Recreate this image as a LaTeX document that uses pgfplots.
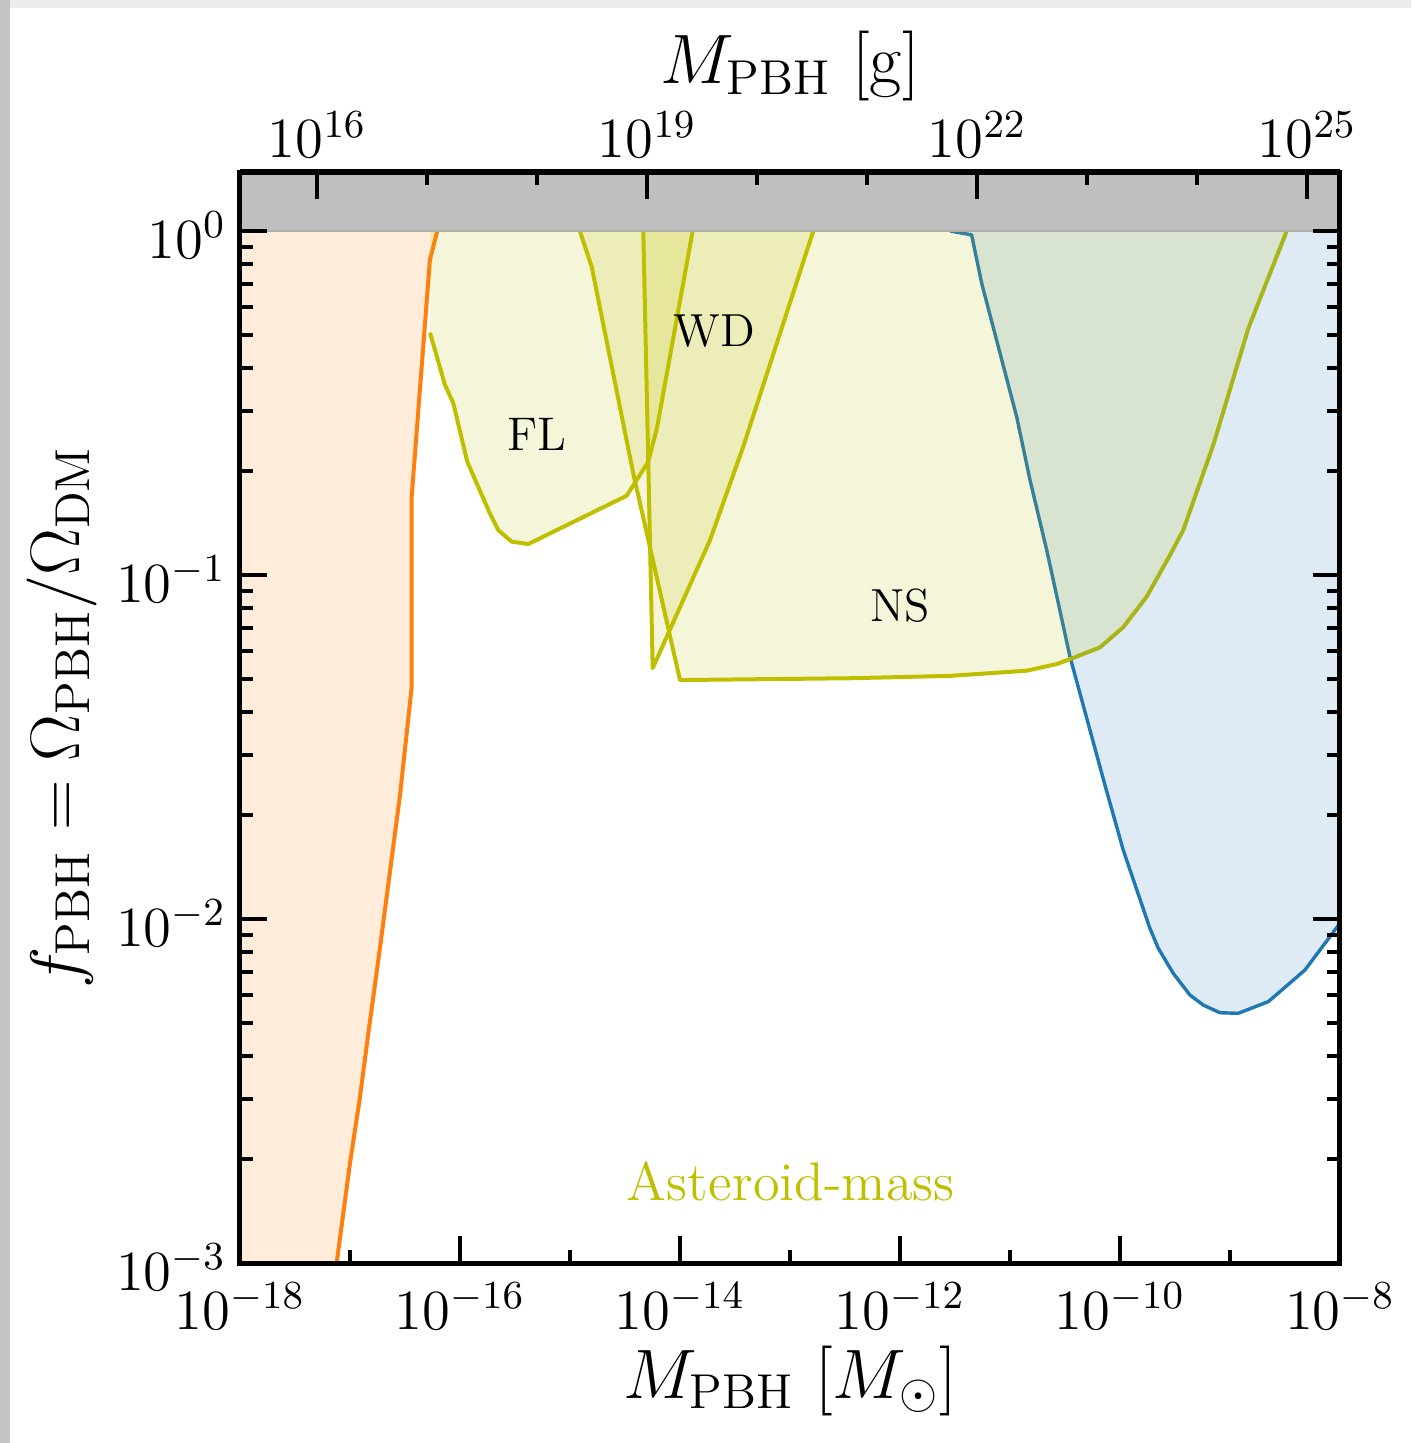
\RequirePackage{fix-cm}
\documentclass[border=0pt]{standalone}
\usepackage{pgfplots}
\pgfplotsset{compat=1.18}
\definecolor{tabblue}{HTML}{1F77B4}
\definecolor{taborange}{HTML}{FF7F0E}
\definecolor{olivec}{HTML}{BFBF00}
\definecolor{band}{HTML}{BFBFBF}
\definecolor{bandedge}{RGB}{172,176,166}
\definecolor{shadeL}{RGB}{196,196,196}
\definecolor{shadeT}{RGB}{236,236,236}
\begin{document}
\begin{tikzpicture}
\useasboundingbox (-60pt,-45pt) rectangle (292.75pt,315.75pt);
\fill[shadeT] (-60pt,313.75pt) rectangle (292.75pt,315.75pt);
\fill[shadeL] (-60pt,-45pt) rectangle (-57.5pt,315.75pt);
\begin{axis}[
  scale only axis, width=275pt, height=272.75pt,
  xmode=log, ymode=log,
  xmin=1e-18, xmax=1e-8, ymin=1e-3, ymax=1.484,
  xtick={1e-18,1e-16,1e-14,1e-12,1e-10,1e-8},
  minor xtick={1e-17,1e-15,1e-13,1e-11,1e-9},
  ytick={1e-3,1e-2,1e-1,1},
  minor ytick={2e-3,3e-3,4e-3,5e-3,6e-3,7e-3,8e-3,9e-3,2e-2,3e-2,4e-2,5e-2,6e-2,7e-2,8e-2,9e-2,0.2,0.3,0.4,0.5,0.6,0.7,0.8,0.9},
  xtick pos=bottom, ytick pos=both,
  tick align=inside,
  major tick length=6.75pt, minor tick length=3.25pt,
  every tick/.style={black, line width=1pt},
  axis line style={line width=1.25pt},
  ticklabel style={font=\fontsize{14.2}{17}\selectfont},
  xticklabel style={yshift=-1.5pt},
  yticklabel style={yshift=-1pt},
  xlabel={$M_{\mathrm{PBH}}\ [M_\odot]$},
  ylabel={$f_{\mathrm{PBH}} = \Omega_{\mathrm{PBH}}/\Omega_{\mathrm{DM}}$},
  label style={font=\fontsize{17.5}{21}\selectfont},
  xlabel style={at={(axis description cs:0.5,-0.108)}, anchor=center},
  ylabel style={at={(axis description cs:-0.162,0.5)}, anchor=center},
  axis on top,
]
% ---- lines ----
\addplot[tabblue, line width=0.85pt, line join=round] coordinates {
 (2.85e-12,1.0) (4.48e-12,0.974) (5.53e-12,0.705) (1.15e-11,0.2885) (1.52e-11,0.189)
 (2.16e-11,0.118) (3.51e-11,0.0579) (7.30e-11,0.02452) (1.07e-10,0.01587) (1.87e-10,0.0094)
 (2.23e-10,0.00822) (3.05e-10,0.00695) (4.33e-10,0.00601) (5.72e-10,0.00562) (8.11e-10,0.00534)
 (1.19e-9,0.00532) (2.23e-9,0.00575) (4.81e-9,0.00711) (1e-8,0.00972) (1.26e-8,0.0107)};
\addplot[olivec, line width=1pt, line join=round] coordinates {
 (1.23e-15,1.0) (1.575e-15,0.7875) (3.76e-15,0.1975) (1e-14,0.0495) (3.51e-13,0.0501)
 (2.85e-12,0.0509) (1.42e-11,0.0527) (2.66e-11,0.0551) (3.51e-11,0.0569) (6.58e-11,0.0616)
 (1.07e-10,0.0705) (1.75e-10,0.0865) (2.85e-10,0.1143) (3.76e-10,0.135) (7.05e-10,0.2387)
 (1.47e-9,0.5215) (3.28e-9,1.0)};
\addplot[olivec, line width=1pt, line join=round] coordinates {
 (4.64e-15,1.0) (5.65e-15,0.0536) (1.87e-14,0.126) (3.76e-14,0.236) (1.63e-13,1.0)};
\addplot[olivec, line width=1pt, line join=round] coordinates {
 (5.34e-17,0.506) (7.30e-17,0.357) (8.69e-17,0.316) (1.165e-16,0.2135) (1.87e-16,0.151)
 (2.23e-16,0.135) (2.95e-16,0.125) (4.18e-16,0.123) (3.28e-15,0.170) (5.15e-15,0.2135)
 (6.18e-15,0.2675) (1.305e-14,1.0)};
\addplot[taborange, line width=1pt, line join=round] coordinates {
 (6.22e-17,1.0) (5.33e-17,0.824) (3.64e-17,0.169) (3.64e-17,0.0473) (2.85e-17,0.0229)
 (1.88e-17,8.31e-3) (1.47e-17,4.66e-3) (1.23e-17,3.02e-3) (1.0e-17,1.95e-3) (7.57e-18,1e-3)
 (6.87e-18,7.94e-4)};
% ---- fills ----
\addplot[draw=none, fill=tabblue, fill opacity=0.15] coordinates {
 (2.85e-12,1.0) (4.48e-12,0.974) (5.53e-12,0.705) (1.15e-11,0.2885) (1.52e-11,0.189)
 (2.16e-11,0.118) (3.51e-11,0.0579) (7.30e-11,0.02452) (1.07e-10,0.01587) (1.87e-10,0.0094)
 (2.23e-10,0.00822) (3.05e-10,0.00695) (4.33e-10,0.00601) (5.72e-10,0.00562) (8.11e-10,0.00534)
 (1.19e-9,0.00532) (2.23e-9,0.00575) (4.81e-9,0.00711) (1e-8,0.00972) (1.26e-8,0.0107)
 (1.26e-8,1.0)} -- cycle;
\addplot[draw=none, fill=olivec, fill opacity=0.15] coordinates {
 (1.23e-15,1.0) (1.575e-15,0.7875) (3.76e-15,0.1975) (1e-14,0.0495) (3.51e-13,0.0501)
 (2.85e-12,0.0509) (1.42e-11,0.0527) (2.66e-11,0.0551) (3.51e-11,0.0569) (6.58e-11,0.0616)
 (1.07e-10,0.0705) (1.75e-10,0.0865) (2.85e-10,0.1143) (3.76e-10,0.135) (7.05e-10,0.2387)
 (1.47e-9,0.5215) (3.28e-9,1.0)} -- cycle;
\addplot[draw=none, fill=olivec, fill opacity=0.15] coordinates {
 (4.64e-15,1.0) (5.65e-15,0.0536) (1.87e-14,0.126) (3.76e-14,0.236) (1.63e-13,1.0)} -- cycle;
\addplot[draw=none, fill=olivec, fill opacity=0.15] coordinates {
 (5.34e-17,1.0) (5.34e-17,0.506) (7.30e-17,0.357) (8.69e-17,0.316) (1.165e-16,0.2135) (1.87e-16,0.151)
 (2.23e-16,0.135) (2.95e-16,0.125) (4.18e-16,0.123) (3.28e-15,0.170) (5.15e-15,0.2135)
 (6.18e-15,0.2675) (1.305e-14,1.0)} -- cycle;
\addplot[draw=none, fill=taborange, fill opacity=0.15] coordinates {
 (1e-18,1.0) (6.22e-17,1.0) (5.33e-17,0.824) (3.64e-17,0.169) (3.64e-17,0.0473) (2.85e-17,0.0229)
 (1.88e-17,8.31e-3) (1.47e-17,4.66e-3) (1.23e-17,3.02e-3) (1.0e-17,1.95e-3) (7.57e-18,1e-3)
 (6.87e-18,7.94e-4) (1e-18,7.94e-4)} -- cycle;
% ---- grey band ----
\addplot[draw=none, fill=band] coordinates {(1e-19,1) (1e-7,1) (1e-7,2) (1e-19,2)} -- cycle;
\addplot[bandedge, line width=0.6pt] coordinates {(1e-18,1) (1e-8,1)};
% ---- labels ----
\node[font=\fontsize{11.8}{14}\selectfont] at (axis cs:5.0e-16,0.256) {FL};
\node[font=\fontsize{11.6}{14}\selectfont] at (axis cs:2.04e-14,0.512) {WD};
\node[font=\fontsize{11.6}{14}\selectfont] at (axis cs:1e-12,0.0813) {NS};
\node[font=\fontsize{13.6}{16}\selectfont, text=olivec] at (axis cs:1.02e-13,1.73e-3) {Asteroid-mass};
\end{axis}
\begin{axis}[
  scale only axis, width=275pt, height=272.75pt,
  xmode=log, xmin=1.989e15, xmax=1.989e25,
  ymin=0, ymax=1,
  hide y axis,
  xtick pos=top, xticklabel pos=top,
  xtick={1e16,1e19,1e22,1e25},
  minor xtick={1e17,1e18,1e20,1e21,1e23,1e24},
  tick align=inside,
  major tick length=6.75pt, minor tick length=3.25pt,
  every tick/.style={black, line width=1pt},
  axis line style={line width=1.25pt},
  ticklabel style={font=\fontsize{14.2}{17}\selectfont},
  xlabel={$M_{\mathrm{PBH}}\ [\mathrm{g}]$},
  label style={font=\fontsize{17.5}{21}\selectfont},
  xlabel style={at={(axis description cs:0.5,1.097)}, anchor=center},
]
\addplot[draw=none] coordinates {(1e16,0.5) (1e25,0.5)};
\end{axis}
\end{tikzpicture}
\end{document}
